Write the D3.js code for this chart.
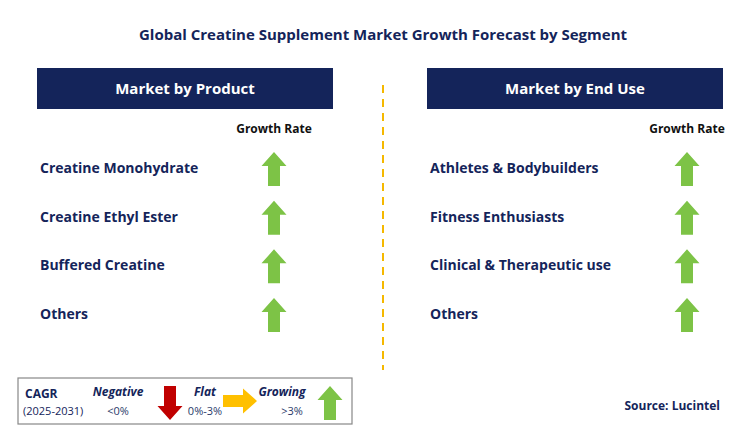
<!DOCTYPE html>
<html><head><meta charset="utf-8">
<script src="https://cdn.jsdelivr.net/npm/d3@7"></script>
<style>body{margin:0;background:#fff}text{font-family:"Open Sans",Arial,sans-serif}</style>
</head><body><svg id="c" width="738" height="445"></svg>
<script>
const title = "Global Creatine Supplement Market Growth Forecast by Segment";
const panelTitles = ["Market by Product", "Market by End Use"];
const products = ["Creatine Monohydrate", "Creatine Ethyl Ester", "Buffered Creatine", "Others"];
const endUses = ["Athletes & Bodybuilders", "Fitness Enthusiasts", "Clinical & Therapeutic use", "Others"];
const productGrowth = ["up", "up", "up", "up"];
const endUseGrowth = ["up", "up", "up", "up"];
const legendItems = [
  {label: "Negative", range: "<0%", dir: "down"},
  {label: "Flat", range: "0%-3%", dir: "right"},
  {label: "Growing", range: ">3%", dir: "up"}
];

const svg = d3.select("#c");
const navy = "#14245a", green = "#7dc346";
svg.append("text").attr("x", 383).attr("y", 40).attr("text-anchor", "middle")
  .attr("font-size", 15).attr("font-weight", "bold").attr("fill", navy).text(title);

svg.append("line").attr("x1", 383).attr("x2", 383).attr("y1", 85).attr("y2", 370)
  .attr("stroke", "#f5b800").attr("stroke-width", 2).attr("stroke-dasharray", "8,6");

const y = d3.scalePoint().domain(d3.range(4)).range([168, 314]);

function arrow(g, cx, cy, dir, color) {
  // up arrow path centered at 0,0, height 34, width 25
  const p = "M0,-17 L12.5,-3 L6,-3 L6,17 L-6,17 L-6,-3 L-12.5,-3 Z";
  const rot = {up: 0, down: 180, right: 90}[dir];
  g.append("path").attr("d", p).attr("fill", color)
    .attr("transform", `translate(${cx},${cy}) rotate(${rot})`);
}

function panel(x0, name, items, growth, arrowX) {
  const g = svg.append("g");
  g.append("rect").attr("x", x0).attr("y", 68).attr("width", 296).attr("height", 41).attr("fill", navy);
  g.append("text").attr("x", x0 + 148).attr("y", 94).attr("text-anchor", "middle")
    .attr("fill", "#fff").attr("font-size", 15).attr("font-weight", "bold").text(name);
  g.append("text").attr("x", arrowX).attr("y", 133).attr("text-anchor", "middle")
    .attr("fill", "#111").attr("font-size", 12).attr("font-weight", "bold").text("Growth Rate");
  items.forEach((d, i) => {
    g.append("text").attr("x", x0 + 3).attr("y", y(i) + 5).attr("fill", navy)
      .attr("font-size", 14).attr("font-weight", "bold").text(d);
    arrow(g, arrowX, y(i) + 1, growth[i], green);
  });
}
panel(37, panelTitles[0], products, productGrowth, 274);
panel(427, panelTitles[1], endUses, endUseGrowth, 687);

// legend
const lg = svg.append("g");
lg.append("rect").attr("x", 18).attr("y", 378).attr("width", 334).attr("height", 46)
  .attr("fill", "#fff").attr("stroke", "#888").attr("stroke-width", 1.2);
lg.append("text").attr("x", 25).attr("y", 398).attr("fill", navy).attr("font-size", 12).attr("font-weight", "bold").text("CAGR");
lg.append("text").attr("x", 23).attr("y", 415).attr("fill", navy).attr("font-size", 11).text("(2025-2031)");
const lx = [{t: 118, r: 118, a: 170}, {t: 205, r: 205, a: 240}, {t: 282, r: 292, a: 330}];
const colors = {down: "#c00000", right: "#ffc000", up: green};
legendItems.forEach((d, i) => {
  lg.append("text").attr("x", lx[i].t).attr("y", 396).attr("text-anchor", "middle").attr("fill", navy)
    .attr("font-size", 12).attr("font-weight", "bold").attr("font-style", "italic").text(d.label);
  lg.append("text").attr("x", lx[i].r).attr("y", 415).attr("text-anchor", "middle").attr("fill", "#2a3a6a")
    .attr("font-size", 11).text(d.range);
  arrow(lg, lx[i].a, d.dir === "right" ? 401 : 403, d.dir, colors[d.dir]);
});

svg.append("text").attr("x", 720).attr("y", 410).attr("text-anchor", "end").attr("fill", navy)
  .attr("font-size", 12).attr("font-weight", "bold").text("Source: Lucintel");
</script></body></html>
